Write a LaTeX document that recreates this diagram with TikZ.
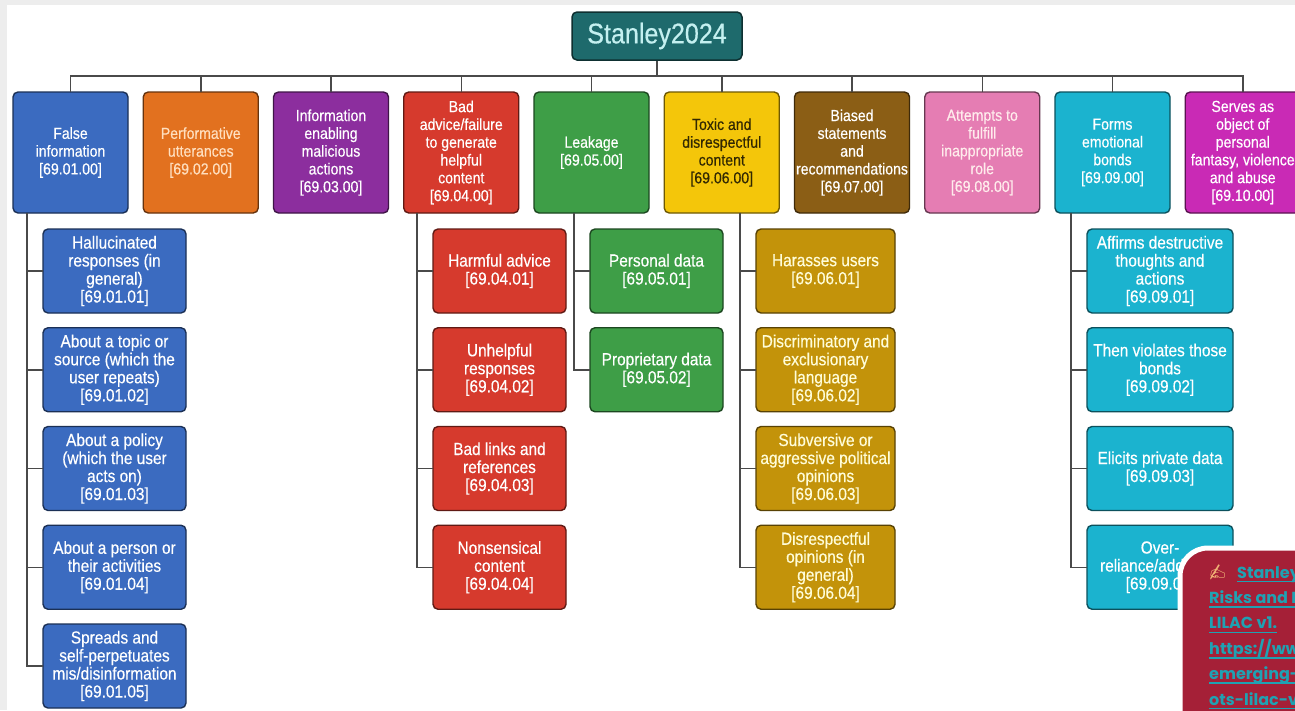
\documentclass[tikz,border=0pt]{standalone}
\usepackage{fontspec}
\setmainfont{Liberation Sans}[FakeStretch=0.88, FakeBold=0.4]
\newfontfamily\notefont{Poppins}
\newfontfamily\emojifont{Noto Emoji}
\usetikzlibrary{positioning}

\definecolor{rootteal}{HTML}{1E6A6C}
\definecolor{roottext}{HTML}{C4F0F0}
\definecolor{cblue}{HTML}{3B6BC0}
\definecolor{corange}{HTML}{E2711F}
\definecolor{cpurple}{HTML}{8C2E9E}
\definecolor{cred}{HTML}{D63A2D}
\definecolor{cgreen}{HTML}{3E9E47}
\definecolor{cyellow}{HTML}{F4C60A}
\definecolor{cbrown}{HTML}{8B5E15}
\definecolor{cpink}{HTML}{E57DB3}
\definecolor{ccyan}{HTML}{1BB3CF}
\definecolor{cmagenta}{HTML}{C92AB5}
\definecolor{cgold}{HTML}{C3930A}
\definecolor{linegray}{HTML}{4A4A4A}
\definecolor{framegray}{HTML}{EDEDED}
\definecolor{notered}{HTML}{A52037}
\definecolor{noteteal}{HTML}{1FA2B3}

\begin{document}
\begin{tikzpicture}[
    x=1pt, y=-1pt,
    link/.style={draw=linegray, line width=1.5pt},
    rootbox/.style={rounded corners=5pt, line width=1.5pt, draw=rootteal!45!black,
        fill=rootteal, text=roottext, minimum width=170pt, minimum height=48pt,
        font=\fontsize{28.5}{30}\selectfont},
    catbox/.style={rounded corners=5pt, line width=1.4pt, draw=#1!45!black,
        fill=#1, text=white, minimum width=115pt, minimum height=121pt, outer sep=0pt,
        align=center, inner sep=1pt, font=\fontsize{16}{17.8}\selectfont},
    subbox/.style 2 args={rounded corners=5pt, line width=1.4pt, draw=#1!45!black,
        fill=#1, text=white, minimum width=#2, minimum height=84pt, outer sep=0pt,
        align=center, inner sep=1pt, font=\fontsize{17.5}{18}\selectfont},
    notetext/.style={anchor=base west, inner sep=0pt, text=noteteal,
        font=\notefont\bfseries\fontsize{16}{18}\selectfont},
    node distance=14.75pt
]
\useasboundingbox (0,0) rectangle (1295,710);
\clip (0,0) rectangle (1295,710);

% page
\fill[framegray] (0,0) rectangle (1295,710);
\fill[white] (7,5) rectangle (1295,710);

% root and categories
\node[rootbox] (root) at (657,36) {Stanley2024};

\node[catbox=cblue] (cat1) at (70.5,152.5) {False\\information\\{[69.01.00]}};
\node[catbox=corange, text=orange!25!white, right=15.25pt of cat1] (cat2) {Performative\\utterances\\{[69.02.00]}};
\node[catbox=cpurple, right=15.25pt of cat2] (cat3) {Information\\enabling\\malicious\\actions\\{[69.03.00]}};
\node[catbox=cred, right=15.25pt of cat3] (cat4) {Bad\\advice/failure\\to generate\\helpful\\content\\{[69.04.00]}};
\node[catbox=cgreen, right=15.25pt of cat4] (cat5) {Leakage\\{[69.05.00]}};
\node[catbox=cyellow, text=black!80!cyellow, right=15.25pt of cat5] (cat6) {Toxic and\\disrespectful\\content\\{[69.06.00]}};
\node[catbox=cbrown, right=15.25pt of cat6] (cat7) {Biased\\statements\\and\\recommendations\\{[69.07.00]}};
\node[catbox=cpink, text=pink!30!white, right=15.25pt of cat7] (cat8) {Attempts to\\fulfill\\inappropriate\\role\\{[69.08.00]}};
\node[catbox=ccyan, right=15.25pt of cat8] (cat9) {Forms\\emotional\\bonds\\{[69.09.00]}};
\node[catbox=cmagenta, right=15.25pt of cat9] (cat10) {Serves as\\object of\\personal\\fantasy, violence\\and abuse\\{[69.10.00]}};

\foreach \i in {1,...,10}{
    \draw[link] (root.south) -- ++(0,15) -| (cat\i.north);
}

% false information
\node[subbox={cblue}{143pt}] (sub1a) at (114.5,271) {Hallucinated\\responses (in\\general)\\{[69.01.01]}};
\node[subbox={cblue}{143pt}, below=of sub1a] (sub1b) {About a topic or\\source (which the\\user repeats)\\{[69.01.02]}};
\node[subbox={cblue}{143pt}, below=of sub1b] (sub1c) {About a policy\\(which the user\\acts on)\\{[69.01.03]}};
\node[subbox={cblue}{143pt}, below=of sub1c] (sub1d) {About a person or\\their activities\\{[69.01.04]}};
\node[subbox={cblue}{143pt}, below=of sub1d] (sub1e) {Spreads and\\self-perpetuates\\mis/disinformation\\{[69.01.05]}};

% bad advice
\node[subbox={cred}{133pt}] (sub4a) at (499.5,271) {Harmful advice\\{[69.04.01]}};
\node[subbox={cred}{133pt}, below=of sub4a] (sub4b) {Unhelpful\\responses\\{[69.04.02]}};
\node[subbox={cred}{133pt}, below=of sub4b] (sub4c) {Bad links and\\references\\{[69.04.03]}};
\node[subbox={cred}{133pt}, below=of sub4c] (sub4d) {Nonsensical\\content\\{[69.04.04]}};

% leakage
\node[subbox={cgreen}{133pt}] (sub5a) at (656.5,271) {Personal data\\{[69.05.01]}};
\node[subbox={cgreen}{133pt}, below=of sub5a] (sub5b) {Proprietary data\\{[69.05.02]}};

% toxic content
\node[subbox={cgold}{139pt}, text=yellow!15!white] (sub6a) at (825.5,271) {Harasses users\\{[69.06.01]}};
\node[subbox={cgold}{139pt}, text=yellow!15!white, below=of sub6a] (sub6b) {Discriminatory and\\exclusionary\\language\\{[69.06.02]}};
\node[subbox={cgold}{139pt}, text=yellow!15!white, below=of sub6b] (sub6c) {Subversive or\\aggressive political\\opinions\\{[69.06.03]}};
\node[subbox={cgold}{139pt}, text=yellow!15!white, below=of sub6c] (sub6d) {Disrespectful\\opinions (in\\general)\\{[69.06.04]}};

% emotional bonds
\node[subbox={ccyan}{146pt}] (sub9a) at (1160,271) {Affirms destructive\\thoughts and\\actions\\{[69.09.01]}};
\node[subbox={ccyan}{146pt}, below=of sub9a] (sub9b) {Then violates those\\bonds\\{[69.09.02]}};
\node[subbox={ccyan}{146pt}, below=of sub9b] (sub9c) {Elicits private data\\{[69.09.03]}};
\node[subbox={ccyan}{146pt}, below=of sub9c] (sub9d) {Over-\\reliance/addiction\\{[69.09.04]}};

% trunks
\coordinate (t1) at ([xshift=-16pt]sub1a.west);
\coordinate (t4) at ([xshift=-16pt]sub4a.west);
\coordinate (t5) at ([xshift=-16pt]sub5a.west);
\coordinate (t6) at ([xshift=-16pt]sub6a.west);
\coordinate (t9) at ([xshift=-16pt]sub9a.west);
\foreach \s in {a,...,e}{
    \draw[link] (t1 |- cat1.south) |- (sub1\s.west);
}
\foreach \s in {a,...,d}{
    \draw[link] (t4 |- cat4.south) |- (sub4\s.west);
    \draw[link] (t6 |- cat6.south) |- (sub6\s.west);
    \draw[link] (t9 |- cat9.south) |- (sub9\s.west);
}
\foreach \s in {a,b}{
    \draw[link] (t5 |- cat5.south) |- (sub5\s.west);
}

% reference card
\draw[draw=white, line width=5pt, fill=notered, rounded corners=28pt] (1180,548) rectangle (1340,760);
\node[notetext, text=brown!40!orange!60!white, font=\emojifont\fontsize{15}{16}\selectfont] (hand) at (1208,577) {✍};
\node[notetext] (note1) at (1237,578) {Stanley2};
\foreach \t [count=\k from 2] in {Risks and M, LILAC v1., https://www, emerging-r, ots-lilac-v1}{
    \node[notetext] (note\k) at (1209,{578+25.4*(\k-1)}) {\t};
}
\foreach \k in {1,...,6}{
    \draw[noteteal, line width=1.6pt] ([yshift=-3.5pt]note\k.base west) -- ([yshift=-3.5pt]note\k.base east);
}
\end{tikzpicture}
\end{document}
